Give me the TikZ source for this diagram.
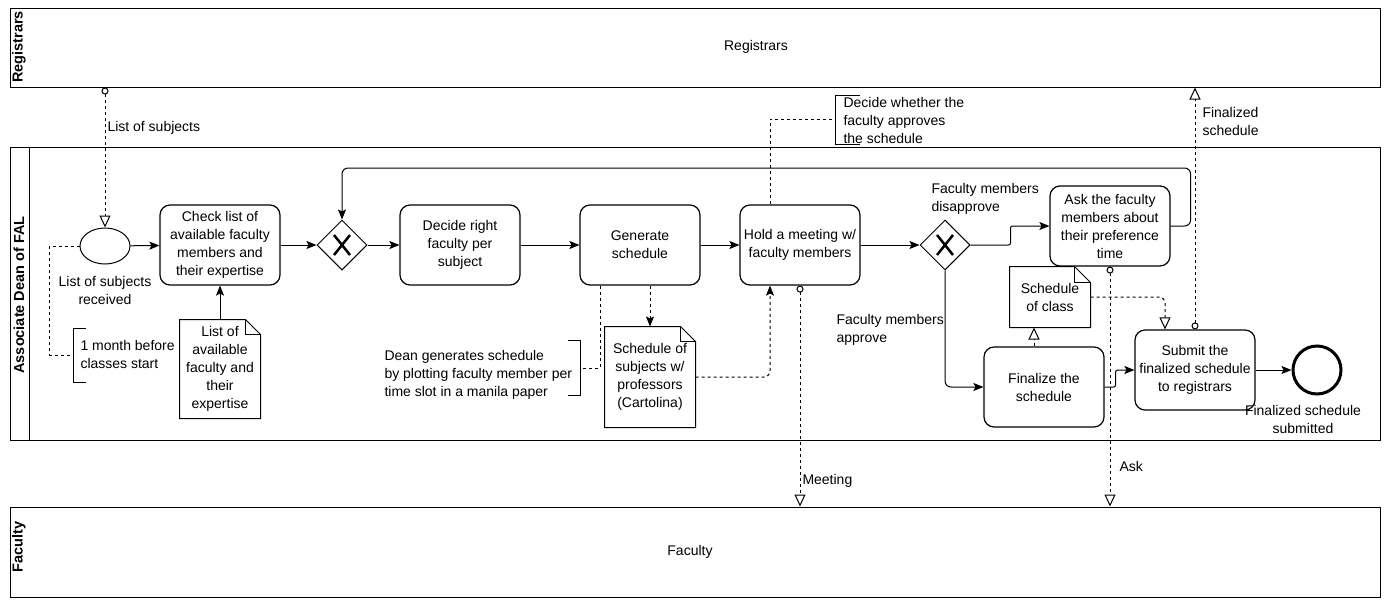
\documentclass[tikz,border=0pt]{standalone}
\usepackage{fontspec}
\setmainfont{Liberation Sans}
\usetikzlibrary{shapes.geometric,arrows.meta,positioning}

% Styles du diagramme
\tikzset{
  pool/.style={draw,minimum width=1370pt,inner sep=0pt},
  poolname/.style={rotate=90,font=\fontsize{14.5}{18}\bfseries\selectfont},
  task/.style={draw,rounded corners=10pt,minimum width=120pt,minimum height=80pt,align=center,inner sep=1pt,line width=1.2pt},
  gate/.style={draw,diamond,minimum width=50pt,minimum height=50pt,inner sep=0pt},
  docobj/.style={minimum width=80pt,minimum height=98pt,align=center,inner sep=0pt},
  evstart/.style={draw,ellipse,minimum width=50pt,minimum height=36pt,inner sep=0pt},
  evend/.style={draw,circle,line width=3pt,minimum size=48pt,inner sep=0pt},
  lbl/.style={align=left,inner sep=0pt},
  seq/.style={-{Stealth[length=10pt,width=8pt,inset=2pt]},rounded corners=6pt},
  msg/.style={dashed,{Circle[open,length=7pt,width=7pt]}-{Triangle[open,length=12pt,width=11pt]}},
  oassoc/.style={dashed,-{Triangle[open,length=12pt,width=11pt]},rounded corners=6pt},
  dassoc/.style={dashed,-{Stealth[length=10pt,width=8pt,inset=2pt]},rounded corners=6pt},
  assoc/.style={dashed},
}

% Document avec coin replié
\newcommand{\docfold}[2]{%
  \draw (#1.north west) -- ([xshift=-#2]#1.north east) -- ([yshift=-#2]#1.north east)
    -- (#1.south east) -- (#1.south west) -- cycle;
  \draw ([xshift=-#2]#1.north east) |- ([yshift=-#2]#1.north east);}
% Croix de la porte exclusive
\newcommand{\gatex}[1]{%
  \draw[line width=2.5pt] ([shift={(-8pt,-10pt)}]#1.center) -- ([shift={(8pt,10pt)}]#1.center);
  \draw[line width=2.5pt] ([shift={(-8pt,10pt)}]#1.center) -- ([shift={(8pt,-10pt)}]#1.center);}

\begin{document}
\begin{tikzpicture}[x=1pt,y=-1pt,line width=1pt,
    every node/.append style={font=\fontsize{14}{18}\selectfont}]
  \useasboundingbox (0,0) rectangle (1390,611);

  % Couloirs
  \node[pool,minimum height=79pt] (reg) at (695,47.5) {};
  \node[pool,minimum height=293pt] (dean) at (695,293.5) {};
  \node[pool,minimum height=90pt] (fac) at (695,552) {};
  \draw ([xshift=20pt]dean.north west) -- ([xshift=20pt]dean.south west);
  \node[poolname] (regname) at (19,47) {Registrars};
  \node[poolname] (deanname) at (19,295) {Associate Dean of FAL};
  \node[poolname] (facname) at (19,547) {Faculty};
  \node (regtitle) at (756,47) {Registrars};
  \node (factitle) at (690,552) {Faculty};

  % Evenements et taches
  \node[evstart] (start) at (105,246) {};
  \node[align=center,inner sep=0pt] (startlbl) at (105,290) {List of subjects\\received};
  \node[task] (check) at (220,245) {Check list of\\available faculty\\members and\\their expertise};
  \node[gate] (g1) at (342,245) {};
  \gatex{g1}
  \node[task] (decide) at (460,245) {Decide right\\faculty per\\subject};
  \node[task] (gen) at (640,245) {Generate\\schedule};
  \node[task] (hold) at (800,245) {Hold a meeting w/\\faculty members};
  \node[gate] (g2) at (945,245) {};
  \gatex{g2}
  \node[task] (ask) at (1110,226) {Ask the faculty\\members about\\their preference\\time};
  \node[task] (fin) at (1044,387) {Finalize the\\schedule};
  \node[task] (sub) at (1195,370) {Submit the\\finalized schedule\\to registrars};
  \node[evend] (endev) at (1317,370) {};
  \node[align=center,inner sep=0pt] (endlbl) at (1303,419) {Finalized schedule\\submitted};

  % Objets de donnees
  \node[docobj] (listdoc) at (220,369) {List of\\available\\faculty and\\their\\expertise};
  \docfold{listdoc}{15pt}
  \node[docobj,minimum width=90pt,minimum height=100pt] (cart) at (650,377) {Schedule of\\subjects w/\\professors\\(Cartolina)};
  \docfold{cart}{15pt}
  \node[docobj,minimum height=60pt] (cls) at (1050,297) {Schedule\\of class};
  \docfold{cls}{16pt}

  % Annotations
  \node[lbl,anchor=west] (ann1) at (80,354) {1 month before\\classes start};
  \draw (86,328) -| (73,382) -- (86,382);
  \coordinate (ann1b) at (73,355);
  \node[lbl,anchor=west] (ann2) at (384,375) {Dean generates schedule\\by plotting faculty member per\\time slot in a manila paper};
  \draw (568,340) -| (580,395) -- (568,395);
  \coordinate (ann2b) at (580,368);
  \node[lbl,anchor=west] (ann3) at (843,120) {Decide whether the\\faculty approves\\the schedule};
  \draw (860,95) -| (835,144) -- (860,144);
  \coordinate (ann3b) at (835,119);

  % Flux de sequence
  \draw[seq] (start) -- (check);
  \draw[seq] (check) -- (g1);
  \draw[seq] (g1) -- (decide);
  \draw[seq] (decide) -- (gen);
  \draw[seq] (gen) -- (hold);
  \draw[seq] (hold) -- (g2);
  \draw[seq,rounded corners=2pt] (g2.east) -- ++(40,0) |- (ask.west);
  \draw[seq] (ask.east) -- ++(20,0) -- ++(0,-58) -| (g1.north);
  \draw[seq] (g2.south) |- (fin.west);
  \draw[seq,rounded corners=2pt] (fin.east) -- ++(11,0) |- (sub.west);
  \draw[seq] (sub) -- (endev);
  \draw[seq] (listdoc.north) -- (check.south);

  % Etiquettes des portes
  \node[lbl,anchor=west] (nolbl) at (931,199) {Faculty members\\disapprove};
  \node[lbl,anchor=west] (yeslbl) at (836,330) {Faculty members\\approve};

  % Associations
  \draw[assoc] (start.west) -- ++(-30,0) |- (ann1b);
  \draw[assoc] ([xshift=-40pt]gen.south) |- (ann2b);
  \draw[assoc] ([xshift=-30pt]hold.north) |- (ann3b);
  \draw[dassoc] (cart.north |- gen.south) -- (cart.north);
  \draw[dassoc] (cart.east) -| ([xshift=-30pt]hold.south);
  \draw[oassoc] ([xshift=-10pt]fin.north) -- ([xshift=-10pt]fin.north |- cls.south);
  \draw[oassoc] (cls.east) -| ([xshift=-30pt]sub.north);

  % Flux de messages
  \draw[msg] (start.north |- reg.south) -- (start.north);
  \node[lbl,anchor=west] (msg1) at (107,128) {List of subjects};
  \draw[msg] (sub.north) -- (sub.north |- reg.south);
  \node[lbl,anchor=west] (msg2) at (1202,121) {Finalized\\schedule};
  \draw[msg] (hold.south) -- (hold.south |- fac.north);
  \node[lbl,anchor=west] (msg3) at (802,481) {Meeting};
  \draw[msg] (ask.south) -- (ask.south |- fac.north);
  \node[lbl,anchor=west] (msg4) at (1119,466) {Ask};
\end{tikzpicture}
\end{document}
